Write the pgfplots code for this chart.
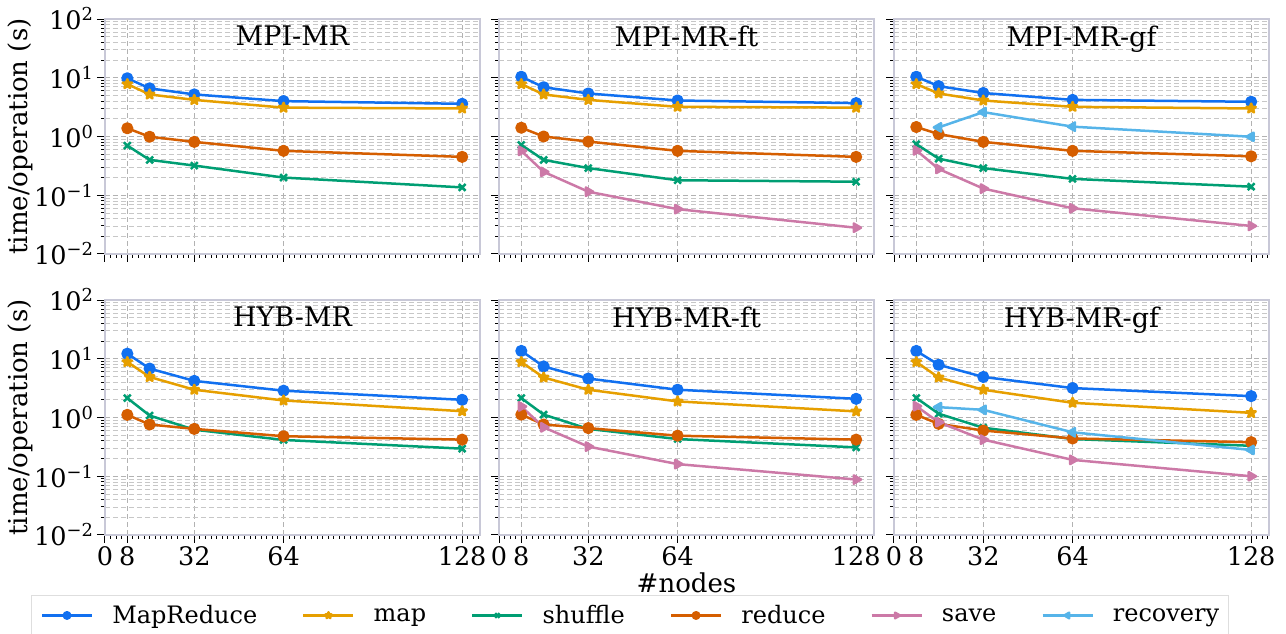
\documentclass[border=0pt]{standalone}
\usepackage{fontspec}
\setmainfont{DejaVu Serif}
\usepackage{pgfplots}
\pgfplotsset{compat=1.18}
\definecolor{cMR}{HTML}{1170F0}
\definecolor{cMap}{HTML}{E69F00}
\definecolor{cShuf}{HTML}{009E73}
\definecolor{cRed}{HTML}{D55E00}
\definecolor{cSave}{HTML}{CC79A7}
\definecolor{cRec}{HTML}{56B4E9}
\definecolor{framec}{RGB}{200,200,215}
\definecolor{legframe}{RGB}{222,222,222}
\pgfdeclareplotmark{fstar}{%
  \pgfpathmoveto{\pgfqpointpolar{90}{\pgfplotmarksize}}%
  \pgfpathlineto{\pgfqpointpolar{126}{0.42\pgfplotmarksize}}%
  \pgfpathlineto{\pgfqpointpolar{162}{\pgfplotmarksize}}%
  \pgfpathlineto{\pgfqpointpolar{198}{0.42\pgfplotmarksize}}%
  \pgfpathlineto{\pgfqpointpolar{234}{\pgfplotmarksize}}%
  \pgfpathlineto{\pgfqpointpolar{270}{0.42\pgfplotmarksize}}%
  \pgfpathlineto{\pgfqpointpolar{306}{\pgfplotmarksize}}%
  \pgfpathlineto{\pgfqpointpolar{342}{0.42\pgfplotmarksize}}%
  \pgfpathlineto{\pgfqpointpolar{18}{\pgfplotmarksize}}%
  \pgfpathlineto{\pgfqpointpolar{54}{0.42\pgfplotmarksize}}%
  \pgfpathclose\pgfusepathqfillstroke}
\pgfplotsset{
  scale only axis, width=375pt, height=235pt,
  xmin=0, xmax=134.4, ymin=1e-2, ymax=1e2,
  xtick={0,8,32,64,128}, minor xtick={2,4,...,134},
  ytick={1e-2,1e-1,1,1e1,1e2},
  xmajorgrids, ymajorgrids, yminorgrids,
  major grid style={black!30, dash pattern=on 5pt off 3pt, line width=0.9pt},
  minor grid style={black!22, dash pattern=on 5pt off 3pt, line width=0.8pt},
  axis line style={framec, line width=1.5pt},
  tick style={black, line width=1pt},
  major tick length=8pt, minor tick length=4pt,
  tick align=outside, xtick pos=bottom, ytick pos=left,
  title style={at={(0.5,1)}, anchor=north, yshift=-13pt, inner sep=0pt, font=\fontsize{27}{27}\selectfont},
  ticklabel style={font=\fontsize{25.5}{25.5}\selectfont},
  every axis plot/.append style={line width=2.5pt, mark size=4.8pt, line join=round, mark options={solid}},
  legend image code/.code={\draw[mark repeat=2, mark phase=2, #1, mark size=3.2pt] plot coordinates {(0pt,0pt) (25pt,0pt) (50pt,0pt)};},
  ylab/.style={
    yticklabels={10\textsuperscript{−2},10\textsuperscript{−1},10\textsuperscript{0},10\textsuperscript{1},10\textsuperscript{2}},
    ylabel={time/operation (s)},
    ylabel style={at={(axis description cs:-0.227,0.5)}, anchor=center, font=\fontsize{26}{26}\selectfont},
  },
  noylab/.style={yticklabels={}},
  xlab/.style={xticklabels={0,8,32,64,128}},
  noxlab/.style={xticklabels={}},
  sMR/.style={color=cMR, mark=*},
  sMap/.style={color=cMap, mark=fstar},
  sShuf/.style={color=cShuf, mark=x},
  sRed/.style={color=cRed, mark=*},
  sSave/.style={color=cSave, mark=triangle*, mark options={rotate=-90}},
  sRec/.style={color=cRec, mark=triangle*, mark options={rotate=90}},
}
\begin{document}
\begin{tikzpicture}
\useasboundingbox (0,0) rectangle (1286pt,-634pt);
% ---------- top row ----------
\begin{semilogyaxis}[ylab, noxlab, at={(105pt,-19pt)}, anchor=north west, title={MPI-MR}]
\addplot[sMR] coordinates {(8,9.8)(16,6.6)(32,5.2)(64,4.0)(128,3.6)};
\addplot[sMap] coordinates {(8,7.8)(16,5.2)(32,4.2)(64,3.1)(128,3.0)};
\addplot[sShuf] coordinates {(8,0.70)(16,0.40)(32,0.32)(64,0.20)(128,0.136)};
\addplot[sRed] coordinates {(8,1.38)(16,0.99)(32,0.81)(64,0.57)(128,0.45)};
\end{semilogyaxis}
\begin{semilogyaxis}[noylab, noxlab, at={(499pt,-19pt)}, anchor=north west, title={MPI-MR-ft}]
\addplot[sMR] coordinates {(8,10.4)(16,6.9)(32,5.4)(64,4.1)(128,3.7)};
\addplot[sMap] coordinates {(8,7.8)(16,5.2)(32,4.2)(64,3.2)(128,3.1)};
\addplot[sShuf] coordinates {(8,0.72)(16,0.40)(32,0.29)(64,0.18)(128,0.17)};
\addplot[sRed] coordinates {(8,1.41)(16,1.0)(32,0.82)(64,0.57)(128,0.45)};
\addplot[sSave] coordinates {(8,0.57)(16,0.25)(32,0.115)(64,0.058)(128,0.028)};
\end{semilogyaxis}
\begin{semilogyaxis}[noylab, noxlab, at={(894pt,-19pt)}, anchor=north west, title={MPI-MR-gf}]
\addplot[sMR] coordinates {(8,10.4)(16,7.2)(32,5.5)(64,4.2)(128,3.9)};
\addplot[sMap] coordinates {(8,7.8)(16,5.4)(32,4.1)(64,3.2)(128,3.0)};
\addplot[sShuf] coordinates {(8,0.74)(16,0.42)(32,0.29)(64,0.19)(128,0.14)};
\addplot[sRed] coordinates {(8,1.45)(16,1.1)(32,0.81)(64,0.57)(128,0.46)};
\addplot[sSave] coordinates {(8,0.58)(16,0.28)(32,0.13)(64,0.06)(128,0.030)};
\addplot[sRec] coordinates {(16,1.43)(32,2.6)(64,1.47)(128,0.99)};
\end{semilogyaxis}
% ---------- bottom row ----------
\begin{semilogyaxis}[ylab, xlab, at={(105pt,-300pt)}, anchor=north west, title={HYB-MR}]
\addplot[sMR] coordinates {(8,12.2)(16,6.8)(32,4.2)(64,2.86)(128,2.0)};
\addplot[sMap] coordinates {(8,8.8)(16,4.9)(32,2.97)(64,1.95)(128,1.28)};
\addplot[sShuf] coordinates {(8,2.14)(16,1.08)(32,0.62)(64,0.415)(128,0.295)};
\addplot[sRed] coordinates {(8,1.11)(16,0.76)(32,0.64)(64,0.48)(128,0.42)};
\end{semilogyaxis}
\begin{semilogyaxis}[noylab, xlab, at={(499pt,-300pt)}, anchor=north west, title={HYB-MR-ft},
  xlabel={\#nodes}, xlabel style={at={(axis description cs:0.5,0)}, anchor=center, yshift=-48pt, font=\fontsize{26}{26}\selectfont}]
\addplot[sMR] coordinates {(8,13.6)(16,7.4)(32,4.6)(64,2.97)(128,2.08)};
\addplot[sMap] coordinates {(8,8.8)(16,4.8)(32,2.97)(64,1.88)(128,1.27)};
\addplot[sShuf] coordinates {(8,2.14)(16,1.12)(32,0.64)(64,0.43)(128,0.31)};
\addplot[sRed] coordinates {(8,1.12)(16,0.76)(32,0.66)(64,0.49)(128,0.42)};
\addplot[sSave] coordinates {(8,1.54)(16,0.68)(32,0.32)(64,0.161)(128,0.088)};
\end{semilogyaxis}
\begin{semilogyaxis}[noylab, xlab, at={(894pt,-300pt)}, anchor=north west, title={HYB-MR-gf},
  legend columns=6,
  legend style={at={(axis description cs:-0.704,-0.2553)}, anchor=north, draw=legframe, line width=1.2pt, fill=white,
    font=\fontsize{24}{24}\selectfont, inner xsep=9pt, inner ysep=8pt,
    nodes={inner xsep=0pt},
    /tikz/column 1/.style={column sep=19pt}, /tikz/column 3/.style={column sep=19pt},
    /tikz/column 5/.style={column sep=19pt}, /tikz/column 7/.style={column sep=19pt},
    /tikz/column 9/.style={column sep=19pt}, /tikz/column 11/.style={column sep=19pt},
    /tikz/column 2/.style={column sep=45pt}, /tikz/column 4/.style={column sep=45pt},
    /tikz/column 6/.style={column sep=45pt}, /tikz/column 8/.style={column sep=45pt},
    /tikz/column 10/.style={column sep=45pt}}]
\addplot[sMR] coordinates {(8,13.6)(16,7.9)(32,4.9)(64,3.17)(128,2.31)};
\addlegendentry{MapReduce}
\addplot[sMap] coordinates {(8,8.8)(16,4.8)(32,2.97)(64,1.78)(128,1.2)};
\addlegendentry{map}
\addplot[sShuf] coordinates {(8,2.15)(16,1.16)(32,0.67)(64,0.43)(128,0.33)};
\addlegendentry{shuffle}
\addplot[sRed] coordinates {(8,1.11)(16,0.78)(32,0.60)(64,0.44)(128,0.38)};
\addlegendentry{reduce}
\addplot[sSave] coordinates {(8,1.56)(16,0.83)(32,0.42)(64,0.19)(128,0.10)};
\addlegendentry{save}
\addplot[sRec] coordinates {(16,1.50)(32,1.35)(64,0.56)(128,0.28)};
\addlegendentry{recovery}
\end{semilogyaxis}
\end{tikzpicture}
\end{document}
